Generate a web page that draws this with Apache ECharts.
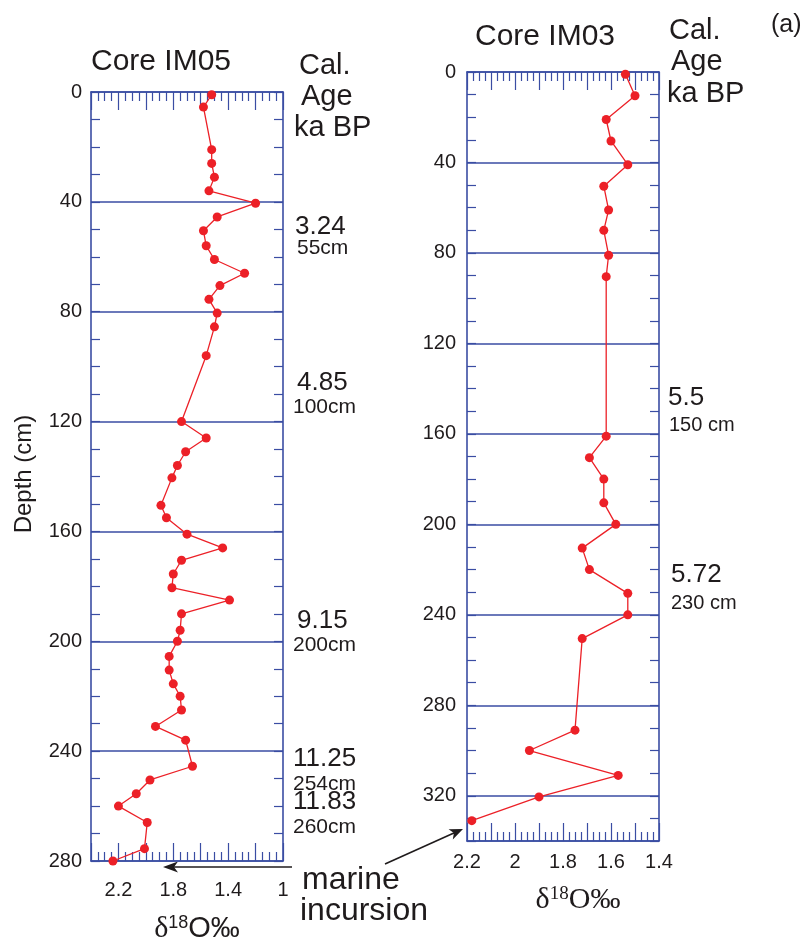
<!DOCTYPE html>
<html>
<head>
<meta charset="utf-8">
<title>Core IM05 / IM03 oxygen isotope profiles</title>
<script src="https://cdn.jsdelivr.net/npm/echarts@6/dist/echarts.min.js"></script>
<style>
  html, body { margin: 0; padding: 0; background: #ffffff; }
  #chart { width: 806px; height: 947px; }
</style>
</head>
<body>
<div id="chart"></div>
<script>
// Core IM05: sample depth (cm) and δ18O (‰)
const depthIM05 = [1, 5.5, 21, 26, 31, 36, 40.5, 45.5, 50.5, 56, 61, 66, 70.5, 75.5, 80.5, 85.5, 96,
  120, 126, 131, 136, 140.5, 150.5, 155, 161, 166, 170.5, 175.5, 180.5, 185, 190, 196,
  200, 205.5, 210.5, 215.5, 220, 225, 231, 236, 245.5, 250.5, 255.5, 260, 266, 275.5, 280];
const d18oIM05 = [1.52, 1.58, 1.52, 1.52, 1.50, 1.54, 1.20, 1.48, 1.58, 1.56, 1.50, 1.28, 1.46, 1.54, 1.48, 1.50, 1.56,
  1.74, 1.56, 1.71, 1.77, 1.81, 1.89, 1.85, 1.70, 1.44, 1.74, 1.80, 1.81, 1.39, 1.74, 1.75,
  1.77, 1.83, 1.83, 1.80, 1.75, 1.74, 1.93, 1.71, 1.66, 1.97, 2.07, 2.20, 1.99, 2.01, 2.24];

// Core IM03: sample depth (cm) and δ18O (‰)
const depthIM03 = [1, 10.5, 21, 30.5, 41, 50.5, 61, 70, 81, 90.5, 161, 170.5, 180, 190.5, 200,
  210.5, 220, 230.5, 240, 250.5, 291, 300, 311, 320.5, 331];
const d18oIM03 = [1.54, 1.50, 1.62, 1.60, 1.53, 1.63, 1.61, 1.63, 1.61, 1.62, 1.62, 1.69, 1.63, 1.63, 1.58,
  1.72, 1.69, 1.53, 1.53, 1.72, 1.75, 1.94, 1.57, 1.90, 2.18];

// Tick labels
const xLabelsIM05 = ['2.2', '1.8', '1.4', '1'];
const xLabelsIM03 = ['2.2', '2', '1.8', '1.6', '1.4'];
const depthLabelsIM05 = [0, 40, 80, 120, 160, 200, 240, 280];
const depthLabelsIM03 = [0, 40, 80, 120, 160, 200, 240, 280, 320];

// Calibrated ages (ka BP) with the depth they refer to
const agesIM05 = ['3.24', '4.85', '9.15', '11.25', '11.83'];
const ageDepthsIM05 = ['55cm', '100cm', '200cm', '254cm', '260cm'];
const agesIM03 = ['5.5', '5.72'];
const ageDepthsIM03 = ['150 cm', '230 cm'];

const BLUE = '#3a4da3';
const RED = '#ec2027';
const INK = '#1f1b1c';
const SANS = '"Liberation Sans", Arial, Helvetica, sans-serif';
const SERIF = '"Liberation Serif", "Times New Roman", serif';

function pickLabel(list, v) {
  const hit = list.find(l => Math.abs(parseFloat(l) - v) < 1e-6);
  return hit === undefined ? '' : hit;
}

function isoAxes(gridIndex, min, max, interval, labels, margin) {
  const common = {
    gridIndex, type: 'value', min, max, interval, inverse: true,
    axisLine: { show: true, onZero: false, lineStyle: { color: BLUE, width: 1.6 } },
    axisTick: { show: true, inside: true, length: 18, lineStyle: { color: BLUE, width: 1.2 } },
    minorTick: { show: true, splitNumber: 4, length: 9, lineStyle: { color: BLUE, width: 1.2 } },
    splitLine: { show: false },
    minorSplitLine: { show: false }
  };
  return [
    Object.assign({}, common, {
      position: 'bottom',
      axisLabel: { show: true, margin, fontSize: 20, fontFamily: SANS, color: INK,
        formatter: v => pickLabel(labels, v) }
    }),
    Object.assign({}, common, { position: 'top', axisLabel: { show: false } })
  ];
}

function depthAxes(gridIndex, max, labels, margin) {
  const tick = { show: true, inside: true, length: 9, lineStyle: { color: BLUE, width: 1.2 } };
  const line = { show: true, onZero: false, lineStyle: { color: BLUE, width: 1.6 } };
  return [
    { gridIndex, type: 'value', position: 'left', min: 0, max, interval: 10, inverse: true,
      axisLine: line, axisTick: tick, splitLine: { show: false },
      axisLabel: { show: true, margin, fontSize: 20, fontFamily: SANS, color: INK,
        formatter: v => (labels.indexOf(Math.round(v)) >= 0 && Math.abs(v - Math.round(v)) < 1e-6) ? String(Math.round(v)) : '' } },
    { gridIndex, type: 'value', position: 'right', min: 0, max, interval: 10, inverse: true,
      axisLine: line, axisTick: tick, splitLine: { show: false }, axisLabel: { show: false } },
    { gridIndex, type: 'value', position: 'left', min: 0, max, interval: 40, inverse: true,
      axisLine: { show: false }, axisTick: { show: false }, axisLabel: { show: false },
      splitLine: { show: true, lineStyle: { color: BLUE, width: 1.5 } } }
  ];
}

function txt(text, x, y, size, opts) {
  return Object.assign({
    type: 'text', x, y, silent: true,
    style: Object.assign({ text, fontSize: size, fontFamily: SANS, fill: INK,
      align: 'left', verticalAlign: 'middle' }, (opts && opts.style) || {})
  }, opts && opts.el ? opts.el : {});
}

const chart = echarts.init(document.getElementById('chart'), null, { renderer: 'canvas' });

const graphics = [
  txt('Core IM05', 161, 62, 30, { style: { align: 'center' } }),
  txt('Core IM03', 545, 37, 30, { style: { align: 'center' } }),
  txt('Cal.', 299, 66, 29), txt('Age', 301, 97, 29), txt('ka BP', 294, 128, 29),
  txt('Cal.', 669, 31, 29), txt('Age', 671, 62, 29), txt('ka BP', 667, 94, 29),
  txt('(a)', 771, 25, 25),
  txt('Depth (cm)', 24, 474, 24, { style: { align: 'center' }, el: { rotation: Math.PI / 2 } }),
  txt('marine', 302, 880, 32),
  txt('incursion', 300, 911, 32),
  {
    type: 'text', x: 197, y: 929, silent: true,
    style: {
      text: '{d|δ}{s|18}{o|O‰}', align: 'center', verticalAlign: 'middle', fill: INK,
      rich: {
        d: { fontFamily: SERIF, fontSize: 30, fill: INK },
        s: { fontFamily: SANS, fontSize: 18, fill: INK, verticalAlign: 'top', padding: [0, 0, 12, 0] },
        o: { fontFamily: SANS, fontSize: 29, fill: INK }
      }
    }
  },
  {
    type: 'text', x: 578, y: 900, silent: true,
    style: {
      text: '{d|δ}{s|18}{o|O‰}', align: 'center', verticalAlign: 'middle', fill: INK,
      rich: {
        d: { fontFamily: SERIF, fontSize: 30, fill: INK },
        s: { fontFamily: SERIF, fontSize: 19, fill: INK, verticalAlign: 'top', padding: [0, 0, 12, 0] },
        o: { fontFamily: SERIF, fontSize: 30, fill: INK }
      }
    }
  },
  // arrows pointing at the base of each core
  { type: 'line', silent: true, shape: { x1: 292, y1: 867, x2: 172, y2: 867 },
    style: { stroke: INK, lineWidth: 1.6 } },
  { type: 'polygon', silent: true, shape: { points: [[163, 867], [178, 861.5], [174, 867], [178, 872.5]] },
    style: { fill: INK } },
  { type: 'line', silent: true, shape: { x1: 385, y1: 864, x2: 455, y2: 832.6 },
    style: { stroke: INK, lineWidth: 1.6 } },
  { type: 'polygon', silent: true, shape: { points: [[463, 829], [452.8, 839.4], [453.9, 833.1], [448.6, 829.3]] },
    style: { fill: INK } }
];

// age / depth annotations beside each core
const ageRowsIM05 = [[295, 227, 297, 248.5], [297, 382.5, 293, 407.5], [297, 620.5, 293, 645],
  [293, 759, 293, 784], [293, 802, 293, 827.5]];
agesIM05.forEach((a, i) => {
  const r = ageRowsIM05[i];
  graphics.push(txt(a, r[0], r[1], 26));
  graphics.push(txt(ageDepthsIM05[i], r[2], r[3], 21));
});
const ageRowsIM03 = [[668, 398, 669, 425], [671, 575, 671, 603]];
agesIM03.forEach((a, i) => {
  const r = ageRowsIM03[i];
  graphics.push(txt(a, r[0], r[1], 26));
  graphics.push(txt(ageDepthsIM03[i], r[2], r[3], 20));
});

const seriesStyle = {
  type: 'line', symbol: 'circle', symbolSize: 9, clip: false, animation: false,
  itemStyle: { color: RED }, lineStyle: { color: RED, width: 1.3 }, emphasis: { disabled: true }
};

chart.setOption({
  animation: false,
  backgroundColor: '#ffffff',
  grid: [
    { left: 91, top: 92, width: 192, height: 769, outerBoundsMode: 'none', containLabel: false },
    { left: 467, top: 72, width: 192, height: 769, outerBoundsMode: 'none', containLabel: false }
  ],
  xAxis: [
    ...isoAxes(0, 1.0, 2.4, 0.2, xLabelsIM05, 19),
    ...isoAxes(1, 1.4, 2.2, 0.1, xLabelsIM03, 11)
  ],
  yAxis: [
    ...depthAxes(0, 280, depthLabelsIM05, 9),
    ...depthAxes(1, 340, depthLabelsIM03, 11)
  ],
  series: [
    Object.assign({}, seriesStyle, {
      name: 'IM05', xAxisIndex: 0, yAxisIndex: 0,
      data: depthIM05.map((d, i) => [d18oIM05[i], d])
    }),
    Object.assign({}, seriesStyle, {
      name: 'IM03', xAxisIndex: 2, yAxisIndex: 3,
      data: depthIM03.map((d, i) => [d18oIM03[i], d])
    })
  ],
  graphic: graphics
});
</script>
</body>
</html>
